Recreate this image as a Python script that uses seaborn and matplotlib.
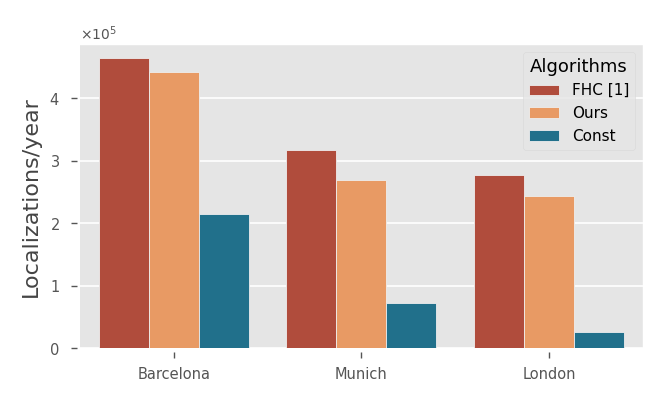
import matplotlib
matplotlib.use("Agg")
import matplotlib.pyplot as plt
import seaborn as sns
import pandas as pd
from matplotlib.ticker import ScalarFormatter

cities = ["Barcelona", "Munich", "London"]
algorithms = ["FHC [1]", "Ours", "Const"]
fhc = [463700, 316900, 277000]
ours = [442500, 269700, 243500]
const = [214300, 71800, 26500]
colors = ["#B04C3C", "#E89A64", "#21708B"]

rows = []
for alg, vals in zip(algorithms, [fhc, ours, const]):
    for c, v in zip(cities, vals):
        rows.append({"City": c, "Algorithms": alg, "Value": v})
df = pd.DataFrame(rows)

plt.style.use("ggplot")
fig = plt.figure(figsize=(6.64, 3.99), dpi=100)
ax = fig.add_axes([0.1205, 0.127, 0.8475, 0.763])
sns.barplot(data=df, x="City", y="Value", hue="Algorithms", order=cities,
            hue_order=algorithms, palette=colors, ax=ax, saturation=1,
            edgecolor="#EEEEEE", linewidth=0.6, errorbar=None)
ax.set_facecolor("#E5E5E5")
ax.grid(axis="x", visible=False)
ax.grid(axis="y", color="white", linewidth=1.2)
for s in ["left", "bottom"]:
    ax.spines[s].set_position(("outward", 2.5))
    ax.spines[s].set_visible(False)
ax.set_xlabel("")
ax.set_ylabel("Localizations/year", fontsize=16, color="#444444", labelpad=6)
fmt = ScalarFormatter(useMathText=True)
fmt.set_powerlimits((0, 0))
ax.yaxis.set_major_formatter(fmt)
ax.yaxis.get_offset_text().set_fontsize(10)
ax.yaxis.get_offset_text().set_color("#444444")
ax.tick_params(axis="both", labelsize=10.5, colors="#555555", labelcolor="#555555",
               length=4, width=1.0, direction="out", pad=8)
ax.tick_params(axis="x", labelsize=10.5, pad=7)
leg = ax.legend(title="Algorithms", loc="upper right", fontsize=11,
                title_fontsize=13, frameon=True)
leg.get_frame().set_facecolor("#E5E5E5")
leg.get_frame().set_edgecolor("#D8D8D8")
fig.savefig("out.png", dpi=100)
